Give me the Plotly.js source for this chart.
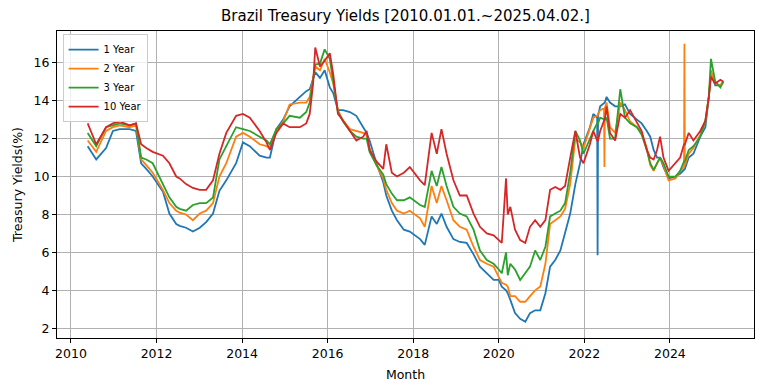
<!DOCTYPE html>
<html>
<head>
<meta charset="utf-8">
<script src="https://cdn.plot.ly/plotly-3.0.1.min.js"></script>
<style>html,body{margin:0;padding:0;background:#fff;}#chart{width:764px;height:391px;}</style>
</head>
<body>
<div id="chart"></div>
<script>
// Decimal-year sample dates
const years = [
2010.39,2010.59,2010.82,2010.98,2011.14,2011.37,2011.52,2011.64,2011.76,2011.91,
2012.15,2012.30,2012.46,2012.54,2012.69,2012.85,2013.01,2013.16,2013.32,2013.47,
2013.63,2013.86,2014.02,2014.18,2014.41,2014.57,2014.65,2014.80,2014.96,2015.11,
2015.35,2015.50,2015.58,2015.66,2015.71,2015.82,2015.93,2016.05,2016.13,2016.24,
2016.36,2016.52,2016.67,2016.83,2016.91,2016.98,2017.14,2017.30,2017.37,2017.50,
2017.62,2017.78,2017.92,2018.16,2018.27,2018.43,2018.55,2018.66,2018.78,2018.94,
2019.09,2019.25,2019.41,2019.56,2019.72,2019.88,2020.00,2020.07,2020.17,2020.21,
2020.27,2020.38,2020.50,2020.62,2020.73,2020.85,2020.97,2021.09,2021.20,2021.32,
2021.44,2021.55,2021.67,2021.79,2021.90,2021.98,2022.13,2022.21,2022.30,2022.31,
2022.32,2022.37,2022.46,2022.47,2022.48,2022.52,2022.60,2022.72,2022.84,2022.95,
2023.07,2023.23,2023.34,2023.46,2023.54,2023.62,2023.70,2023.77,2023.85,2023.97,
2024.13,2024.24,2024.33,2024.34,2024.35,2024.44,2024.55,2024.71,2024.83,2024.91,
2024.96,2025.06,2025.18,2025.25
];
const y1 = [
11.6,10.9,11.5,12.4,12.5,12.5,12.4,10.7,10.4,10.0,
9.2,8.05,7.5,7.4,7.3,7.1,7.3,7.6,8.05,9.25,
9.8,10.7,11.8,11.6,11.1,11.0,11.0,12.5,13.0,13.7,
14.2,14.5,14.6,15.2,15.5,15.2,15.6,14.7,14.4,13.5,
13.5,13.4,13.2,12.6,12.3,11.9,10.7,9.7,9.0,8.2,
7.7,7.2,7.1,6.7,6.4,7.9,7.5,8.05,7.35,6.7,
6.55,6.5,5.9,5.25,4.9,4.55,4.55,4.2,4.0,3.85,
3.5,2.8,2.5,2.35,2.8,2.95,2.95,3.85,5.25,5.6,
6.1,7.0,8.05,9.6,10.7,11.7,12.6,13.3,13.1,5.85,
13.2,13.7,13.9,13.9,13.9,14.2,13.9,13.7,13.7,13.8,
13.3,13.0,12.8,12.4,12.1,11.4,11.0,11.0,10.5,9.9,
10.0,10.15,10.4,10.4,10.4,11.0,11.2,12.1,12.6,14.2,
15.4,14.8,14.8,15.0
];
const y2 = [
11.9,11.3,12.4,12.6,12.7,12.6,12.7,10.9,10.6,10.2,
9.3,8.6,8.2,8.1,8.0,7.7,8.05,8.2,8.6,10.0,
10.7,12.1,12.3,12.1,11.7,11.6,11.5,12.4,12.9,13.8,
13.9,13.9,14.2,15.2,15.8,15.6,16.2,15.5,14.9,13.5,
12.95,12.5,12.4,12.3,12.2,11.5,10.6,9.9,9.3,8.6,
8.2,8.05,8.2,7.8,7.35,9.5,8.6,9.5,8.75,7.7,
7.35,7.2,6.3,5.6,5.4,5.25,4.7,4.4,4.3,4.2,
3.7,3.7,3.4,3.4,3.7,4.0,4.2,5.4,7.5,7.7,
7.9,8.3,9.6,12.0,11.8,11.5,12.6,13.1,13.2,13.2,
13.3,13.5,13.6,10.5,13.6,13.9,12.6,12.3,13.9,13.5,
12.9,12.6,12.3,11.5,10.6,10.3,10.7,11.0,10.6,9.8,
9.9,10.3,10.5,17.0,10.6,11.2,11.5,12.2,12.9,14.2,
15.6,14.9,14.8,15.0
];
const y3 = [
12.3,11.6,12.6,12.7,12.8,12.7,12.8,11.0,10.9,10.7,
9.6,8.9,8.4,8.3,8.2,8.5,8.6,8.6,8.9,10.9,
11.6,12.6,12.5,12.4,12.1,11.9,11.7,12.5,12.8,13.2,
13.1,13.4,13.9,15.0,15.9,15.95,16.7,16.2,15.0,13.4,
12.9,12.4,12.1,12.0,12.0,11.3,10.6,10.1,9.6,9.1,
8.75,8.75,8.9,8.5,8.4,10.3,9.5,10.5,9.5,8.4,
8.05,7.9,7.2,6.1,5.6,5.4,5.1,4.9,6.0,4.8,
5.4,5.1,4.55,4.9,5.25,6.1,5.6,6.3,7.9,8.05,
8.2,8.6,10.2,12.4,11.9,11.2,12.0,12.4,12.8,12.8,
12.8,13.1,13.0,13.0,13.0,13.1,12.0,12.0,14.6,13.1,
12.8,12.6,12.2,11.4,10.7,10.35,10.7,11.0,10.7,10.0,
10.0,10.3,10.8,10.8,10.8,11.4,11.6,12.1,12.95,14.2,
16.2,15.0,14.7,15.0
];
const y10 = [
12.8,11.7,12.6,12.8,12.9,12.7,12.8,11.7,11.5,11.3,
11.1,10.7,10.0,9.9,9.6,9.4,9.3,9.3,9.8,11.2,
12.3,13.2,13.3,13.1,12.4,11.8,11.4,12.3,12.8,12.6,
12.6,12.8,13.3,14.9,16.8,15.8,16.1,16.5,15.4,13.3,
12.95,12.4,11.9,12.1,12.4,11.4,10.8,10.4,11.7,10.2,
10.0,10.2,10.5,9.8,9.55,12.3,11.2,12.5,11.2,9.8,
9.0,9.0,8.05,7.35,7.0,6.9,6.65,6.5,9.9,8.0,
8.4,7.2,6.65,6.5,7.35,7.7,7.35,7.7,9.3,9.45,
9.3,9.5,11.0,12.4,11.0,10.7,11.7,12.4,11.9,11.9,
11.9,12.4,13.0,13.0,13.0,13.7,12.3,11.9,13.3,13.1,
13.5,12.8,12.4,11.4,11.0,10.9,11.4,12.1,11.0,10.3,
10.7,11.0,11.7,11.7,11.7,12.3,11.9,12.4,12.95,14.2,
15.25,14.9,15.1,15.0
];
const seriesNames = ['1 Year','2 Year','3 Year','10 Year'];
const seriesColors = ['#1f77b4','#ff7f0e','#2ca02c','#d62728'];
const xTicks = [2010,2012,2014,2016,2018,2020,2022,2024];
const yTicks = [2,4,6,8,10,12,14,16];

const F = 'DejaVu Sans, Verdana, sans-serif';
const data = [y1,y2,y3,y10].map((ys,i)=>({
  type:'scatter', mode:'lines', x: years, y: ys, name: seriesNames[i],
  line:{color: seriesColors[i], width:1.8}
}));

const axisCommon = {
  showgrid:true, gridcolor:'#b0b0b0', gridwidth:1,
  ticks:'outside', ticklen:4, tickwidth:1, tickcolor:'#000',
  showline:true, linecolor:'#000', linewidth:1, mirror:true,
  zeroline:false, tickfont:{family:F, size:12.5, color:'#000'}
};
const layout = {
  width:764, height:391,
  margin:{l:57, r:10, t:31, b:53},
  paper_bgcolor:'#fff', plot_bgcolor:'#fff',
  font:{family:F, color:'#000'},
  title:{text:'Brazil Treasury Yields [2010.01.01.~2025.04.02.]', font:{family:F, size:15, color:'#000'},
         x:0.5, xref:'paper', xanchor:'center', y:1-16/391, yref:'container', yanchor:'middle'},
  xaxis: Object.assign({}, axisCommon, {
    range:[2009.673, 2025.966], tickvals:xTicks, ticktext:xTicks.map(String),
    title:{text:'Month', font:{family:F, size:12.5, color:'#000'}, standoff:10}
  }),
  yaxis: Object.assign({}, axisCommon, {
    range:[1.49, 17.67], tickvals:yTicks, ticktext:yTicks.map(String),
    title:{text:'Treasury Yields(%)', font:{family:F, size:12.5, color:'#000'}, standoff:8}
  }),
  legend:{x:0.008, y:0.99, xanchor:'left', yanchor:'top',
    bgcolor:'rgba(255,255,255,0.8)', bordercolor:'#cccccc', borderwidth:1,
    font:{family:F, size:10, color:'#000'}},
  showlegend:true
};
Plotly.newPlot('chart', data, layout, {displayModeBar:false, staticPlot:true});
</script>
</body>
</html>
